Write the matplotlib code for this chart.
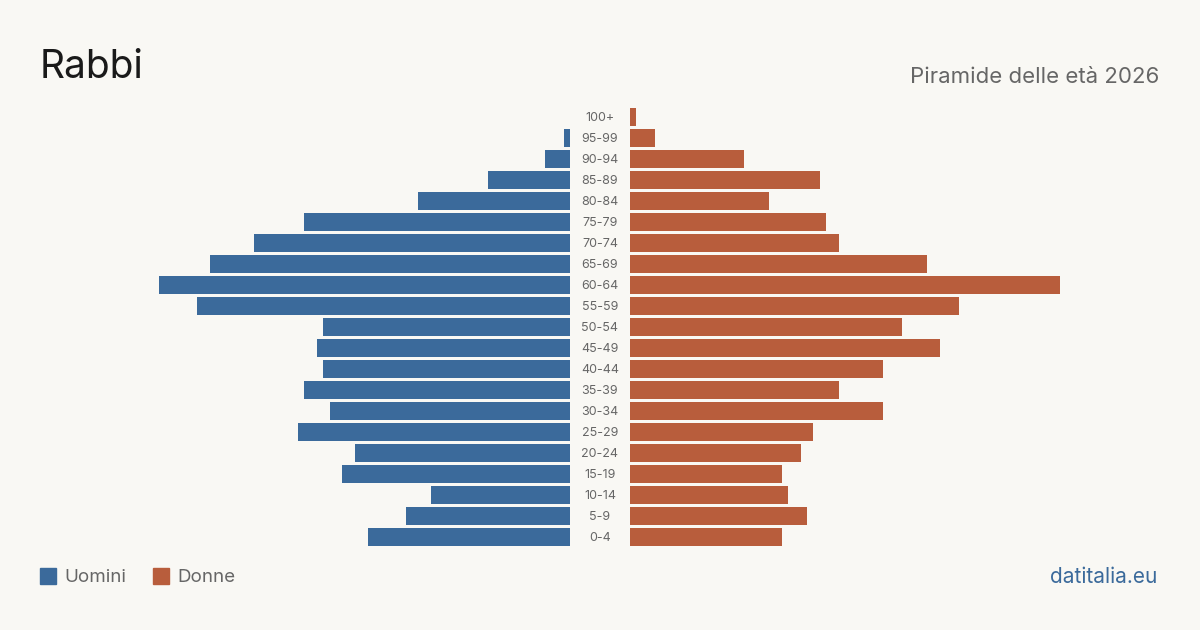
import matplotlib
matplotlib.use("Agg")
import matplotlib.pyplot as plt
from matplotlib.patches import Rectangle

plt.rcParams['font.family'] = ['Inter', 'DejaVu Sans']

# classi di età (dal basso verso l'alto)
eta = ['0-4', '5-9', '10-14', '15-19', '20-24', '25-29', '30-34', '35-39',
       '40-44', '45-49', '50-54', '55-59', '60-64', '65-69', '70-74',
       '75-79', '80-84', '85-89', '90-94', '95-99', '100+']
uomini = [32, 26, 22, 36, 34, 43, 38, 42, 39, 40, 39, 59, 65, 57, 50,
          42, 24, 13, 4, 1, 0]
donne = [24, 28, 25, 24, 27, 29, 40, 33, 40, 49, 43, 52, 68, 47, 33,
         31, 22, 30, 18, 4, 1]

blu = '#3b6a9b'
rosso = '#b85d3c'
sfondo = '#f9f8f4'
grigio = '#666666'

W, H = 1200, 630
fig = plt.figure(figsize=(12, 6.3), dpi=100, facecolor=sfondo)

xmax = max(max(uomini), max(donne))
top, bottom = 106.5, 547.5
ax_l = fig.add_axes([140 / W, 1 - bottom / H, 430 / W, (bottom - top) / H])
ax_r = fig.add_axes([630 / W, 1 - bottom / H, 430 / W, (bottom - top) / H])

y = list(range(len(eta)))
ax_l.barh(y, uomini, height=0.81, color=blu)
ax_r.barh(y, donne, height=0.81, color=rosso)
ax_l.set_xlim(xmax, 0)
ax_r.set_xlim(0, xmax)
for ax in (ax_l, ax_r):
    ax.set_ylim(-0.5, len(eta) - 0.5)
    ax.axis('off')

# etichette centrali
for i, lab in enumerate(eta):
    yy = 1 - (bottom - (i + 0.5) * (bottom - top) / len(eta) + 1) / H
    fig.text(600 / W, yy, lab, ha='center', va='center', fontsize=9, color=grigio)

fig.text(40 / W, 1 - 67 / H, 'Rabbi', fontsize=28, color='#1a1a1a', va='center', ha='left')
fig.text(1159 / W, 1 - 77 / H, 'Piramide delle età 2026', fontsize=16, color=grigio,
         va='center', ha='right')

# legenda
for x0, col, lab in [(40, blu, 'Uomini'), (153, rosso, 'Donne')]:
    fig.patches.append(Rectangle((x0 / W, 1 - 584 / H), 16 / W, 16 / H,
                                 transform=fig.transFigure, color=col))
    fig.text((x0 + 24) / W, 1 - 577 / H, lab, fontsize=13.5, color=grigio,
             va='center', ha='left')

fig.text(1157 / W, 1 - 577 / H, 'datitalia.eu', fontsize=15, color=blu,
         va='center', ha='right')

fig.savefig('out.png', dpi=100, facecolor=sfondo)
